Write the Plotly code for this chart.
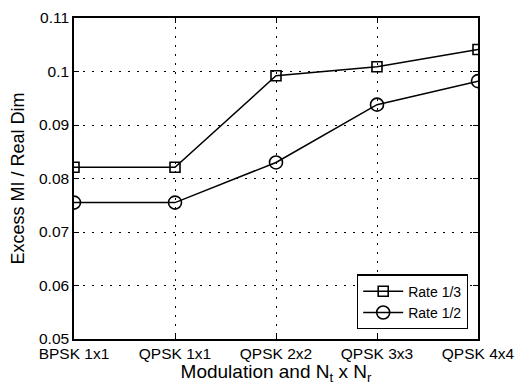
import plotly.graph_objects as go

categories = ["BPSK 1x1", "QPSK 1x1", "QPSK 2x2", "QPSK 3x3", "QPSK 4x4"]
rate_13 = [0.0821, 0.0821, 0.0992, 0.1009, 0.1041]
rate_12 = [0.0755, 0.0755, 0.0830, 0.0938, 0.0982]

x = list(range(len(categories)))

fig = go.Figure()
fig.add_trace(go.Scatter(x=x, y=rate_13, mode="lines+markers", name="Rate 1/3",
                         line=dict(color="black", width=1.5),
                         marker=dict(symbol="square-open", size=10, color="black", line=dict(width=1.6))))
fig.add_trace(go.Scatter(x=x, y=rate_12, mode="lines+markers", name="Rate 1/2",
                         line=dict(color="black", width=1.5),
                         marker=dict(symbol="circle-open", size=13, color="black", line=dict(width=1.6))))

font = "Liberation Sans, Arial, Helvetica, sans-serif"
fig.update_layout(
    width=524, height=385,
    margin=dict(l=74, r=44, t=9, b=45),
    paper_bgcolor="white", plot_bgcolor="white",
    font=dict(family=font, color="black", size=14),
    showlegend=True,
    legend=dict(x=0.975, y=0.03, xanchor="right", yanchor="bottom",
                bordercolor="black", borderwidth=1.3, bgcolor="white",
                font=dict(size=14), tracegroupgap=0, itemwidth=40),
    xaxis=dict(range=[0, 4], tickvals=x, ticktext=categories,
               showline=True, linecolor="black", linewidth=1.5, mirror="ticks",
               ticks="inside", ticklen=5, tickcolor="black",
               showgrid=True, gridcolor="black", griddash="2px,7px", gridwidth=1,
               zeroline=False, tickfont=dict(size=15.5),
               title=dict(text="Modulation and N<sub>t</sub> x N<sub>r</sub>", font=dict(size=19), standoff=0)),
    yaxis=dict(range=[0.05, 0.11], tickvals=[0.05, 0.06, 0.07, 0.08, 0.09, 0.1, 0.11],
               ticktext=["0.05", "0.06", "0.07", "0.08", "0.09", "0.1", "0.11"],
               showline=True, linecolor="black", linewidth=1.5, mirror="ticks",
               ticks="inside", ticklen=5, tickcolor="black",
               showgrid=True, gridcolor="black", griddash="2px,7px", gridwidth=1,
               zeroline=False, tickfont=dict(size=15.5),
               title=dict(text="Excess MI / Real Dim", font=dict(size=18), standoff=10)),
)
fig.write_html("out.html")
